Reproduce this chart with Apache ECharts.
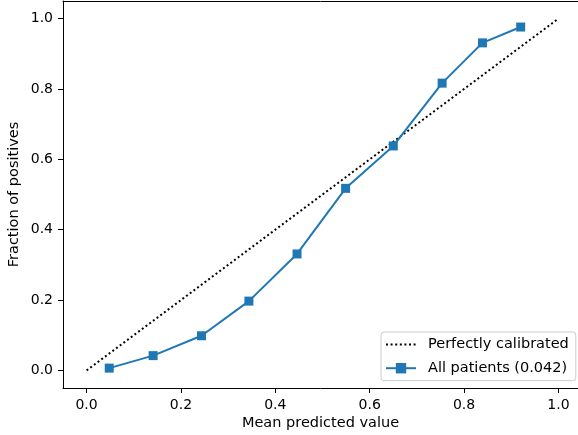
<!DOCTYPE html>
<html><head><meta charset="utf-8">
<script src="https://cdn.jsdelivr.net/npm/echarts@6/dist/echarts.min.js"></script>
<style>html,body{margin:0;padding:0;background:#fff}#c{width:578px;height:435px}</style>
</head><body><div id="c"></div>
<script>
const meanPredicted = [0.048, 0.141, 0.2435, 0.344, 0.446, 0.549, 0.650, 0.7535, 0.839, 0.920];
const fractionPositives = [0.0065, 0.042, 0.0985, 0.197, 0.331, 0.5175, 0.638, 0.8165, 0.931, 0.976];
const perfectX = [0, 1];
const perfectY = [0, 1];
const tickValues = [0, 0.2, 0.4, 0.6, 0.8, 1.0];
const seriesNames = ['Perfectly calibrated', 'All patients (0.042)'];
const xTitle = 'Mean predicted value';
const yTitle = 'Fraction of positives';

const FONT = 'DejaVu Sans';
const chart = echarts.init(document.getElementById('c'), null, {renderer: 'canvas'});
function axisCommon(name, gap, margin, min, max) {
  return {
    type: 'value', min: min, max: max,
    name: name, nameLocation: 'middle', nameGap: gap, nameMoveOverlap: false,
    nameTextStyle: {fontFamily: FONT, fontSize: 14.5, color: '#000'},
    axisLine: {show: true, onZero: false, lineStyle: {color: '#000', width: 1}},
    axisTick: {show: true, inside: false, length: 5, lineStyle: {color: '#000', width: 1}, customValues: tickValues},
    axisLabel: {show: true, margin: margin, fontFamily: FONT, fontSize: 14, color: '#000',
      customValues: tickValues, formatter: v => Number(v).toFixed(1)},
    splitLine: {show: false}
  };
}
const xMain = axisCommon(xTitle, 28, 10, -0.05, 1.0415);
const xTop = {type: 'value', position: 'top', min: -0.05, max: 1.0415,
  axisLine: {show: true, onZero: false, lineStyle: {color: '#000', width: 1}},
  axisTick: {show: false}, axisLabel: {show: false}, splitLine: {show: false}};
chart.setOption({
  animation: false,
  backgroundColor: '#fff',
  grid: {left: 63, right: 0, top: 1, bottom: 47, containLabel: false, outerBoundsMode: 'none', show: false},
  xAxis: [xMain, xTop],
  yAxis: axisCommon(yTitle, 41, 10, -0.05, 1.05),
  legend: {
    orient: 'vertical', left: 381, top: 332,
    padding: [5, 7, 5, 4], itemGap: 8.7, itemWidth: 30, itemHeight: 13,
    borderColor: '#cccccc', borderWidth: 1, borderRadius: 3,
    backgroundColor: 'rgba(255,255,255,0.8)',
    textStyle: {fontFamily: FONT, fontSize: 14.5, color: '#000', padding: [0, 0, 0, 7]},
    data: [
      {name: seriesNames[0], itemStyle: {color: 'rgba(0,0,0,0)', borderWidth: 0, opacity: 0}},
      {name: seriesNames[1]}
    ]
  },
  series: [
    {
      name: seriesNames[0], type: 'line', xAxisIndex: 0,
      data: perfectX.map((x, i) => [x, perfectY[i]]),
      symbol: 'none', z: 2,
      lineStyle: {color: '#000', width: 2, type: [2, 2.6]},
      itemStyle: {color: '#000'}
    },
    {
      name: seriesNames[1], type: 'line', xAxisIndex: 0,
      data: meanPredicted.map((x, i) => [x, fractionPositives[i]]),
      symbol: 'rect', symbolSize: 9, showAllSymbol: true, z: 3,
      lineStyle: {color: '#1f77b4', width: 2},
      itemStyle: {color: '#1f77b4'}
    }
  ]
});
</script></body></html>
